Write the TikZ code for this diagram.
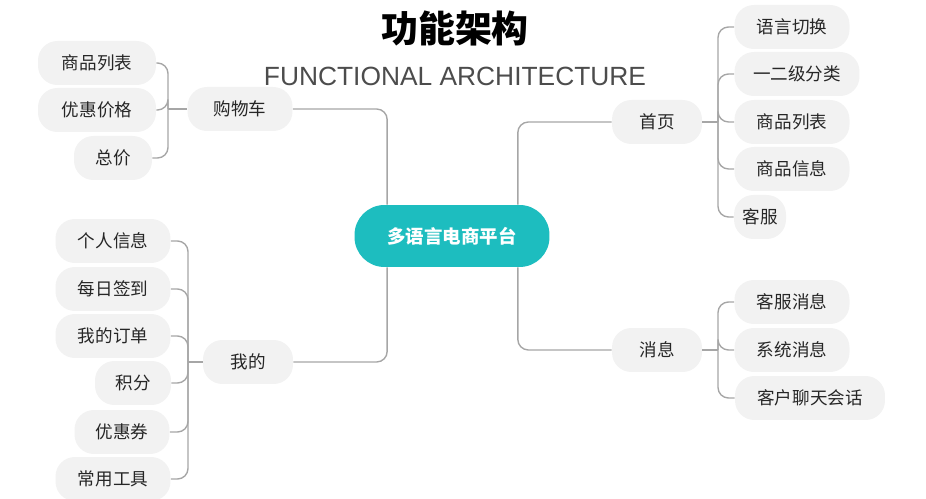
\documentclass[tikz,border=0pt]{standalone}
\usepackage{fontspec}
\setmainfont{Liberation Sans}
\newfontfamily\cjk{Noto Sans CJK SC}
\definecolor{teal1}{HTML}{1DBDBF}
\definecolor{leafgray}{HTML}{F2F2F2}
\definecolor{linegray}{HTML}{A6A6A6}
\tikzset{
  leaf/.style={rectangle, rounded corners=11pt, fill=leafgray, minimum height=0.88cm, font=\cjk\fontsize{10}{12}\selectfont, text=black!85},
  hub/.style={rectangle, rounded corners=17pt, fill=teal1, minimum width=3.9cm, minimum height=1.24cm, font=\cjk\bfseries\fontsize{10.5}{12}\selectfont, text=white},
  link/.style={draw=linegray, line width=0.8pt, rounded corners=6pt}
}
\begin{document}
\begin{tikzpicture}[x=0.02cm,y=-0.02cm]
\useasboundingbox (0,0) rectangle (926,499);

\node (title) at (455,28) {\cjk\bfseries\fontsize{21}{24}\selectfont 功能架构};
\node (sub) [text=black!70] at (455,76) {\fontsize{15}{18}\selectfont FUNCTIONAL ARCHITECTURE};

\node (hub) [hub] at (452,236) {多语言电商平台};

% first level
\node (cart) [leaf,minimum width=2.1cm] at (240,109) {购物车};
\node (mine) [leaf,minimum width=1.8cm] at (248,362) {我的};
\node (home) [leaf,minimum width=1.8cm] at (657,122) {首页};
\node (msg)  [leaf,minimum width=1.8cm] at (657,350) {消息};

% cart
\node (c1) [leaf,minimum width=2.36cm] at (97,63) {商品列表};
\node (c2) [leaf,minimum width=2.36cm] at (97,110) {优惠价格};
\node (c3) [leaf,minimum width=1.56cm] at (113,158) {总价};

% mine
\node (m1) [leaf,minimum width=2.3cm] at (113,241) {个人信息};
\node (m2) [leaf,minimum width=2.3cm] at (113,289) {每日签到};
\node (m3) [leaf,minimum width=2.3cm] at (113,336) {我的订单};
\node (m4) [leaf,minimum width=1.52cm] at (133,383) {积分};
\node (m5) [leaf,minimum width=1.9cm] at (122,432) {优惠券};
\node (m6) [leaf,minimum width=2.3cm] at (113,479) {常用工具};

% home
\node (h1) [leaf,minimum width=2.3cm] at (792,27) {语言切换};
\node (h2) [leaf,minimum width=2.5cm] at (797,74) {一二级分类};
\node (h3) [leaf,minimum width=2.3cm] at (792,122) {商品列表};
\node (h4) [leaf,minimum width=2.3cm] at (792,169) {商品信息};
\node (h5) [leaf,minimum width=1.04cm] at (760,217) {客服};

% msg
\node (s1) [leaf,minimum width=2.3cm] at (792,302) {客服消息};
\node (s2) [leaf,minimum width=2.3cm] at (792,350) {系统消息};
\node (s3) [leaf,minimum width=3cm] at (810,398) {客户聊天会话};

% hub links
\draw[link] (hub.north west) ++(33,0) coordinate (hn) |- (cart.east);
\draw[link] (hub.south west) ++(33,0) coordinate (hs) |- (mine.east);
\draw[link] (hub.north east) ++(-32,0) coordinate (hne) |- (home.west);
\draw[link] (hub.south east) ++(-32,0) coordinate (hse) |- (msg.west);

% brackets
\coordinate (bc) at (168,109);
\draw[link] (cart.west) -- (bc);
\foreach \n in {c1,c2,c3} \draw[link] (bc) |- (\n.east);
\coordinate (bm) at (188,362);
\draw[link] (mine.west) -- (bm);
\foreach \n in {m1,m2,m3,m4,m5,m6} \draw[link] (bm) |- (\n.east);
\coordinate (bh) at (718,122);
\draw[link] (home.east) -- (bh);
\foreach \n in {h1,h2,h3,h4,h5} \draw[link] (bh) |- (\n.west);
\coordinate (bs) at (718,350);
\draw[link] (msg.east) -- (bs);
\foreach \n in {s1,s2,s3} \draw[link] (bs) |- (\n.west);
\end{tikzpicture}
\end{document}
